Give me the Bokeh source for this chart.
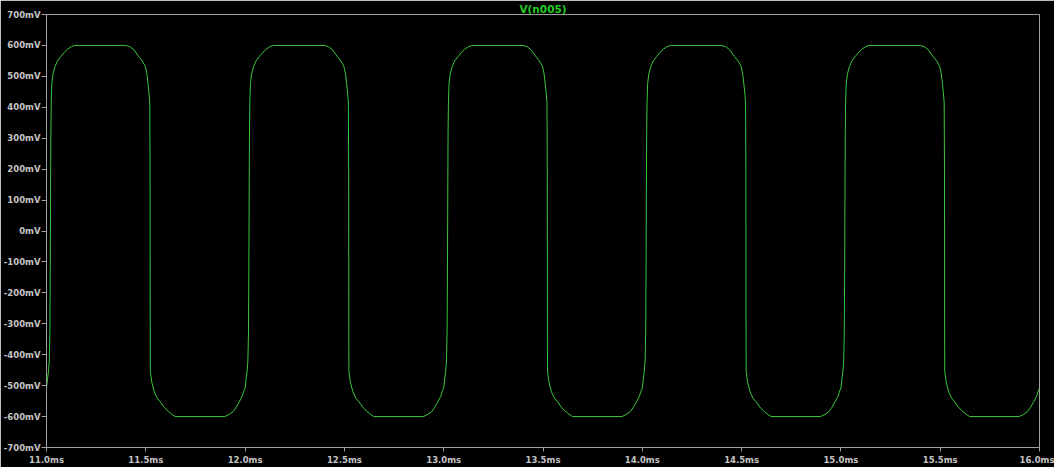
from bokeh.plotting import figure
from bokeh.models import Range1d, FixedTicker
from bokeh.embed import file_html
from bokeh.resources import INLINE

# ---- data ----
trace_name = "V(n005)"

t_ms = [
    11.000, 11.005, 11.010, 11.014, 11.017, 11.019, 11.0205, 11.022, 11.024, 11.027, 11.033, 11.043, 11.055, 11.072, 11.090, 11.106, 11.125, 11.142,
    11.399, 11.420, 11.440, 11.464, 11.482, 11.497, 11.505, 11.511, 11.517, 11.520, 11.5215, 11.522, 11.5225, 11.523, 11.530, 11.5426, 11.557, 11.5727, 11.595, 11.6147, 11.630, 11.648,
    11.898, 11.920, 11.940, 11.955, 11.970, 11.985, 11.995,
    12.000, 12.005, 12.010, 12.014, 12.017, 12.019, 12.0205, 12.022, 12.024, 12.027, 12.033, 12.043, 12.055, 12.072, 12.090, 12.106, 12.125, 12.142,
    12.399, 12.420, 12.440, 12.464, 12.482, 12.497, 12.505, 12.511, 12.517, 12.520, 12.5215, 12.522, 12.5225, 12.523, 12.530, 12.5426, 12.557, 12.5727, 12.595, 12.6147, 12.630, 12.648,
    12.898, 12.920, 12.940, 12.955, 12.970, 12.985, 12.995,
    13.000, 13.005, 13.010, 13.014, 13.017, 13.019, 13.0205, 13.022, 13.024, 13.027, 13.033, 13.043, 13.055, 13.072, 13.090, 13.106, 13.125, 13.142,
    13.399, 13.420, 13.440, 13.464, 13.482, 13.497, 13.505, 13.511, 13.517, 13.520, 13.5215, 13.522, 13.5225, 13.523, 13.530, 13.5426, 13.557, 13.5727, 13.595, 13.6147, 13.630, 13.648,
    13.898, 13.920, 13.940, 13.955, 13.970, 13.985, 13.995,
    14.000, 14.005, 14.010, 14.014, 14.017, 14.019, 14.0205, 14.022, 14.024, 14.027, 14.033, 14.043, 14.055, 14.072, 14.090, 14.106, 14.125, 14.142,
    14.399, 14.420, 14.440, 14.464, 14.482, 14.497, 14.505, 14.511, 14.517, 14.520, 14.5215, 14.522, 14.5225, 14.523, 14.530, 14.5426, 14.557, 14.5727, 14.595, 14.6147, 14.630, 14.648,
    14.898, 14.920, 14.940, 14.955, 14.970, 14.985, 14.995,
    15.000, 15.005, 15.010, 15.014, 15.017, 15.019, 15.0205, 15.022, 15.024, 15.027, 15.033, 15.043, 15.055, 15.072, 15.090, 15.106, 15.125, 15.142,
    15.399, 15.420, 15.440, 15.464, 15.482, 15.497, 15.505, 15.511, 15.517, 15.520, 15.5215, 15.522, 15.5225, 15.523, 15.530, 15.5426, 15.557, 15.5727, 15.595, 15.6147, 15.630, 15.648,
    15.898, 15.920, 15.940, 15.955, 15.970, 15.985, 15.995,
    16.000,
]

v_mV = [
    -508, -478, -455, -420, -330, -120, 120, 320, 420, 478, 508, 532, 550, 564, 578, 588, 596, 600,
    600, 596, 586, 564, 550, 533, 510, 478, 440, 414, 200, -100, -380, -455, -488, -520, -540, -552, -572, -584, -592, -600,
    -600, -593, -584, -570, -553, -535, -515,
    -508, -478, -455, -420, -330, -120, 120, 320, 420, 478, 508, 532, 550, 564, 578, 588, 596, 600,
    600, 596, 586, 564, 550, 533, 510, 478, 440, 414, 200, -100, -380, -455, -488, -520, -540, -552, -572, -584, -592, -600,
    -600, -593, -584, -570, -553, -535, -515,
    -508, -478, -455, -420, -330, -120, 120, 320, 420, 478, 508, 532, 550, 564, 578, 588, 596, 600,
    600, 596, 586, 564, 550, 533, 510, 478, 440, 414, 200, -100, -380, -455, -488, -520, -540, -552, -572, -584, -592, -600,
    -600, -593, -584, -570, -553, -535, -515,
    -508, -478, -455, -420, -330, -120, 120, 320, 420, 478, 508, 532, 550, 564, 578, 588, 596, 600,
    600, 596, 586, 564, 550, 533, 510, 478, 440, 414, 200, -100, -380, -455, -488, -520, -540, -552, -572, -584, -592, -600,
    -600, -593, -584, -570, -553, -535, -515,
    -508, -478, -455, -420, -330, -120, 120, 320, 420, 478, 508, 532, 550, 564, 578, 588, 596, 600,
    600, 596, 586, 564, 550, 533, 510, 478, 440, 414, 200, -100, -380, -455, -488, -520, -540, -552, -572, -584, -592, -600,
    -600, -593, -584, -570, -553, -535, -515,
    -508,
]

y_ticks = [-700, -600, -500, -400, -300, -200, -100, 0, 100, 200, 300, 400, 500, 600, 700]
y_tick_labels = ["-700mV", "-600mV", "-500mV", "-400mV", "-300mV", "-200mV", "-100mV", "0mV",
                 "100mV", "200mV", "300mV", "400mV", "500mV", "600mV", "700mV"]
x_ticks = [11.0, 11.5, 12.0, 12.5, 13.0, 13.5, 14.0, 14.5, 15.0, 15.5, 16.0]
x_tick_labels = ["11.0ms", "11.5ms", "12.0ms", "12.5ms", "13.0ms", "13.5ms", "14.0ms",
                 "14.5ms", "15.0ms", "15.5ms", "16.0ms"]

# ---- styling ----
FRAME = "#a0a0a0"
TXT = "#c4c4c4"
TRACE = "#3cc83c"
TITLE = "#22cc22"
FONT = "DejaVu Sans"

p = figure(width=1054, height=467, output_backend="svg", toolbar_location=None,
           x_range=Range1d(11.0, 16.0), y_range=Range1d(-700, 700),
           min_border_left=41, min_border_right=15, min_border_top=13, min_border_bottom=19)

p.background_fill_color = "black"
p.border_fill_color = "black"
p.outline_line_color = FRAME
p.outline_line_width = 1
p.xgrid.visible = False
p.ygrid.visible = False

p.line(t_ms, v_mV, line_color=TRACE, line_width=1)

for ax in (p.xaxis[0], p.yaxis[0]):
    ax.axis_line_color = FRAME
    ax.major_tick_line_color = FRAME
    ax.minor_tick_line_color = None
    ax.major_tick_in = 0
    ax.major_label_text_color = TXT
    ax.major_label_text_font = FONT
    ax.major_label_text_font_style = "bold"
    ax.major_label_text_font_size = "8.5px"

p.yaxis[0].ticker = FixedTicker(ticks=y_ticks)
p.yaxis[0].major_label_overrides = {k: s for k, s in zip(y_ticks, y_tick_labels)}
p.yaxis[0].major_tick_out = 5
p.yaxis[0].major_label_standoff = 1

p.xaxis[0].ticker = FixedTicker(ticks=x_ticks)
p.xaxis[0].major_label_overrides = {k: s for k, s in zip(x_ticks, x_tick_labels)}
p.xaxis[0].major_tick_out = 4
p.xaxis[0].major_label_standoff = 3

p.title.text = trace_name
p.title.align = "center"
p.title.text_color = TITLE
p.title.text_font = FONT
p.title.text_font_style = "bold"
p.title.text_font_size = "10.5px"
p.title.standoff = 0
p.title.offset = 0

open("out.html", "w").write(file_html(p, INLINE))
